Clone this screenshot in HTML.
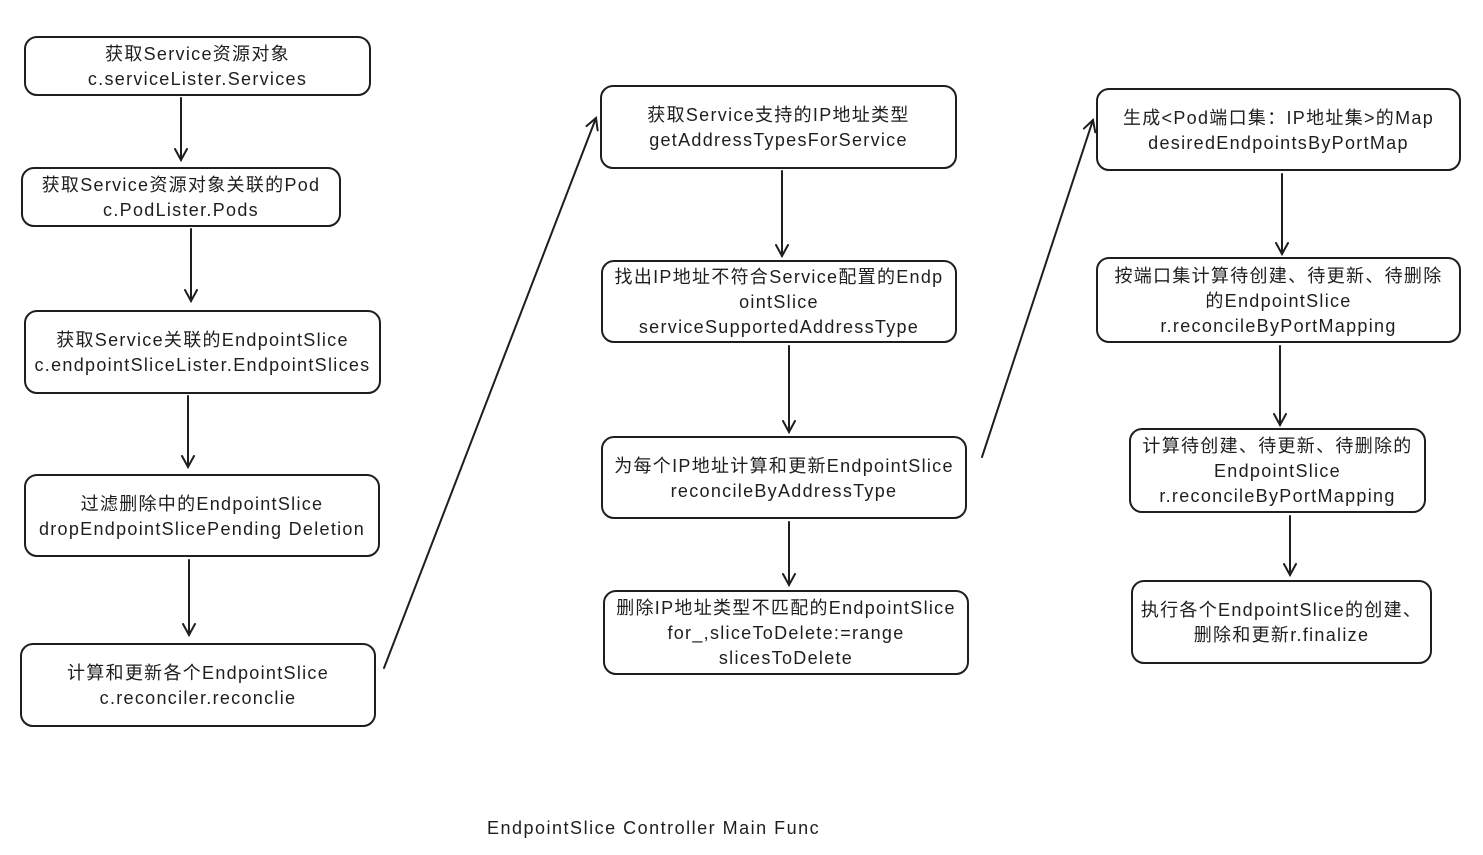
<!DOCTYPE html>
<html><head><meta charset="utf-8"><style>
body{margin:0;width:1483px;height:855px;background:#fff;position:relative;overflow:hidden;font-family:"Liberation Sans","Noto Sans CJK SC",sans-serif;color:#1e1e1e}
.b{position:absolute;border:2px solid #1e1e1e;border-radius:13px;box-sizing:border-box;display:flex;align-items:center;justify-content:center;text-align:center;font-size:18px;letter-spacing:1.3px;line-height:25px;padding:2px 2px 0}
.t{position:absolute;left:487px;top:818px;font-size:18px;letter-spacing:1.5px}
svg{position:absolute;left:0;top:0}
</style></head><body>
<svg width="1483" height="855" fill="none" stroke="#1e1e1e" stroke-width="2" stroke-linecap="round">
<defs><marker id="a" markerWidth="14" markerHeight="14" refX="12" refY="7" orient="auto" markerUnits="userSpaceOnUse"><path d="M1,1 L12,7 L1,13"/></marker></defs>
<path marker-end="url(#a)" d="M181 98 L181 160"/>
<path marker-end="url(#a)" d="M191 229 L191 301"/>
<path marker-end="url(#a)" d="M188 396 L188 467"/>
<path marker-end="url(#a)" d="M189 560 L189 635"/>
<path marker-end="url(#a)" d="M384 668 L596 118"/>
<path marker-end="url(#a)" d="M782 171 L782 256"/>
<path marker-end="url(#a)" d="M789 346 L789 432"/>
<path marker-end="url(#a)" d="M789 522 L789 585"/>
<path marker-end="url(#a)" d="M982 457 L1093 120"/>
<path marker-end="url(#a)" d="M1282 174 L1282 254"/>
<path marker-end="url(#a)" d="M1280 346 L1280 425"/>
<path marker-end="url(#a)" d="M1290 516 L1290 575"/>
</svg>
<div class="b" style="left:24px;top:36px;width:347px;height:60px">获取Service资源对象<br>c.serviceLister.Services</div>
<div class="b" style="left:21px;top:167px;width:320px;height:60px">获取Service资源对象关联的Pod<br>c.PodLister.Pods</div>
<div class="b" style="left:24px;top:310px;width:357px;height:84px">获取Service关联的EndpointSlice<br>c.endpointSliceLister.EndpointSlices</div>
<div class="b" style="left:24px;top:474px;width:356px;height:83px">过滤删除中的EndpointSlice<br>dropEndpointSlicePending Deletion</div>
<div class="b" style="left:20px;top:643px;width:356px;height:84px">计算和更新各个EndpointSlice<br>c.reconciler.reconclie</div>
<div class="b" style="left:600px;top:85px;width:357px;height:84px">获取Service支持的IP地址类型<br>getAddressTypesForService</div>
<div class="b" style="left:601px;top:260px;width:356px;height:83px">找出IP地址不符合Service配置的Endp<br>ointSlice<br>serviceSupportedAddressType</div>
<div class="b" style="left:601px;top:436px;width:366px;height:83px">为每个IP地址计算和更新EndpointSlice<br>reconcileByAddressType</div>
<div class="b" style="left:603px;top:590px;width:366px;height:85px">删除IP地址类型不匹配的EndpointSlice<br>for_,sliceToDelete:=range<br>slicesToDelete</div>
<div class="b" style="left:1096px;top:88px;width:365px;height:83px">生成&lt;Pod端口集：IP地址集&gt;的Map<br>desiredEndpointsByPortMap</div>
<div class="b" style="left:1096px;top:257px;width:365px;height:86px">按端口集计算待创建、待更新、待删除<br>的EndpointSlice<br>r.reconcileByPortMapping</div>
<div class="b" style="left:1129px;top:428px;width:297px;height:85px">计算待创建、待更新、待删除的<br>EndpointSlice<br>r.reconcileByPortMapping</div>
<div class="b" style="left:1131px;top:580px;width:301px;height:84px">执行各个EndpointSlice的创建、<br>删除和更新r.finalize</div>
<div class="t">EndpointSlice Controller Main Func</div>
</body></html>
